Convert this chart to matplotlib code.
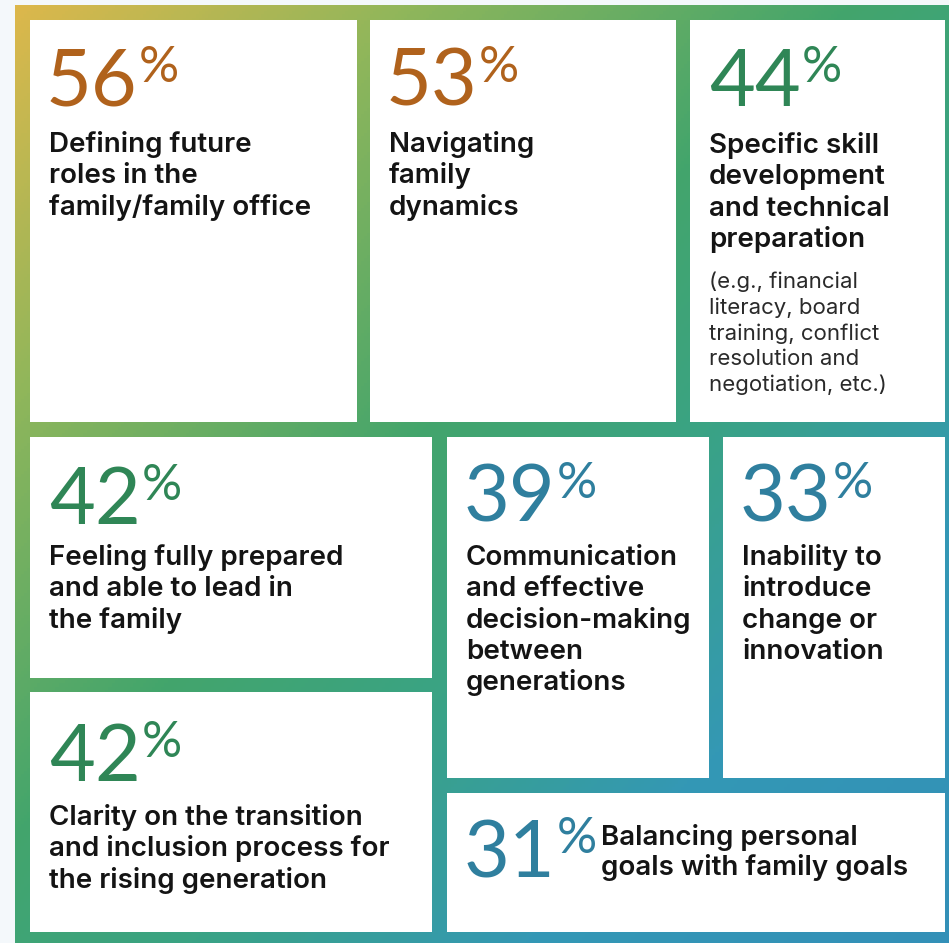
import numpy as np
import matplotlib.pyplot as plt
from matplotlib.colors import LinearSegmentedColormap
from matplotlib.patches import Rectangle
from matplotlib.textpath import TextPath
from matplotlib.font_manager import FontProperties

pcts = [56, 53, 44, 42, 39, 33, 42, 31]
labels = [
    "Defining future\nroles in the\nfamily/family office",
    "Navigating\nfamily\ndynamics",
    "Specific skill\ndevelopment\nand technical\npreparation",
    "Feeling fully prepared\nand able to lead in\nthe family",
    "Communication\nand effective\ndecision-making\nbetween\ngenerations",
    "Inability to\nintroduce\nchange or\ninnovation",
    "Clarity on the transition\nand inclusion process for\nthe rising generation",
    "Balancing personal\ngoals with family goals",
]
note = "(e.g., financial\nliteracy, board\ntraining, conflict\nresolution and\nnegotiation, etc.)"
num_colors = ["#B0621C", "#B0621C", "#2F8656", "#2F8656", "#2F7F9E", "#2F7F9E", "#2F8656", "#2F7F9E"]

# box layout in pixels (x0, y0, x1, y1), y measured from the top
boxes = [
    (30, 20, 357, 422), (370, 20, 676, 422), (690, 20, 945, 422),
    (30, 437, 432, 678), (447, 437, 709, 778), (723, 437, 945, 778),
    (30, 692, 432, 932), (447, 793, 945, 932),
]
# number baseline, first label baseline
num_base = [106, 106, 106, 524, 522, 522, 781, 877]
lab_base = [152, 152, 153, 565, 565, 565, 825, 845]

W, H = 949, 943
fig = plt.figure(figsize=(W / 100, H / 100), dpi=100)
fig.patch.set_facecolor("#F4F8FB")
ax = fig.add_axes([0, 0, 1, 1])
ax.set_xlim(0, W)
ax.set_ylim(H, 0)
ax.axis("off")

# diagonal gradient frame
cmap = LinearSegmentedColormap.from_list("frame", [
    (0.0, "#E0B84B"), (0.22, "#8FB65B"), (0.45, "#43A56C"),
    (0.6, "#3AA384"), (0.78, "#3498B5"), (1.0, "#3390B8")])
xx, yy = np.meshgrid(np.linspace(15, W, 300), np.linspace(5, H, 300))
t = (xx / W + yy / H) / 2
ax.imshow(t, cmap=cmap, extent=[15, W, H, 5], origin="upper", aspect="auto",
          vmin=0, vmax=1, zorder=1)

num_prop = FontProperties(family="Lato", weight="normal")
lab_font = dict(family="Inter", weight="semibold")
NUM_PT, PCT_PT = 57, 36

fig.canvas.draw()
renderer = fig.canvas.get_renderer()

for i, (x0, y0, x1, y1) in enumerate(boxes):
    ax.add_patch(Rectangle((x0, y0), x1 - x0, y1 - y0, facecolor="white",
                           edgecolor="none", zorder=2))
    nx = x0 + 20
    # shift so the ink of the first digit starts at nx
    lead = TextPath((0, 0), str(pcts[i])[0], size=NUM_PT / 0.72, prop=num_prop).get_extents().x0
    num = ax.text(nx - lead, num_base[i], str(pcts[i]), fontsize=NUM_PT, color=num_colors[i],
                  va="baseline", ha="left", zorder=3, fontproperties=num_prop)
    px = num.get_window_extent(renderer).x1 + 1
    pct = ax.text(px, num_base[i] - 24, "%", fontsize=PCT_PT, color=num_colors[i],
                  va="baseline", ha="left", zorder=3, fontproperties=num_prop)
    lx = nx - 1
    if i == 7:
        lx = max(595, pct.get_window_extent(renderer).x1 + 4)
    step = 31.3 if i != 7 else 30
    for k, line in enumerate(labels[i].split("\n")):
        ax.text(lx, lab_base[i] + k * step, line, fontsize=20, color="#141414",
                va="baseline", ha="left", zorder=3, **lab_font)
    if i == 2:
        for k, line in enumerate(note.split("\n")):
            ax.text(lx, 288 + k * 25.8, line, fontsize=16, color="#2A2A2A",
                    va="baseline", ha="left", zorder=3, family="Inter", weight="normal")

fig.savefig("out.png", dpi=100, facecolor=fig.get_facecolor())
